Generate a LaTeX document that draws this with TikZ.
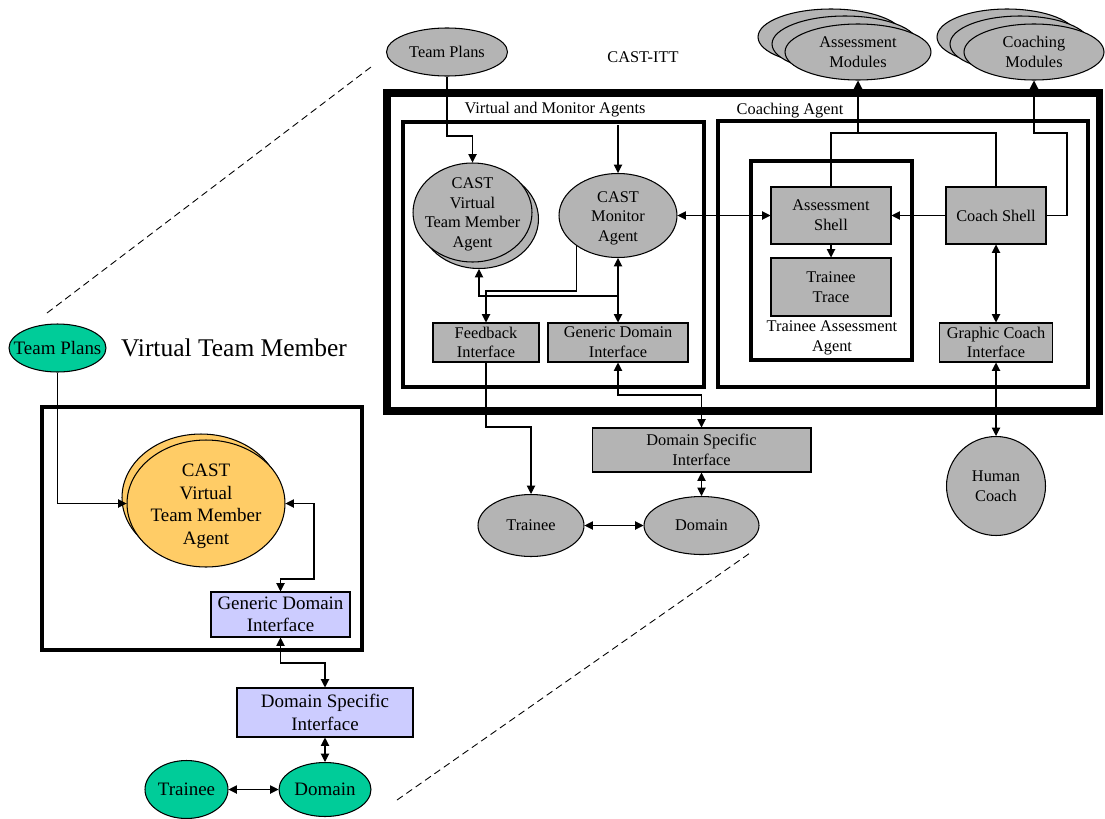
\documentclass[tikz,border=0pt]{standalone}
\usepackage{fontspec}
\setmainfont{Liberation Serif}
\usetikzlibrary{shapes.geometric,arrows.meta}
\definecolor{boxgray}{RGB}{180,180,180}
\definecolor{vtgreen}{RGB}{0,204,153}
\definecolor{vtorange}{RGB}{255,204,102}
\definecolor{vtlilac}{RGB}{204,204,255}
\begin{document}
\begin{tikzpicture}[x=0.02cm,y=-0.02cm,
  sm/.style={font=\fontsize{9.3}{11.2}\selectfont, align=center, inner sep=0pt},
  lg/.style={font=\fontsize{10.8}{12.8}\selectfont, align=center, inner sep=0pt},
  gbox/.style={sm, draw, fill=boxgray, line width=0.6pt, rectangle},
  lbox/.style={lg, draw, fill=vtlilac, line width=0.6pt, rectangle},
  ell/.style={ellipse, draw, line width=0.6pt, inner sep=0pt},
  frame/.style={line width=2.8pt, line join=miter},
  outerframe/.style={line width=4pt, line join=miter},
  wire/.style={line width=0.6pt},
  arr/.style={wire, -{Triangle[length=4.8pt,width=4.8pt]}},
  arrboth/.style={wire, {Triangle[length=4.8pt,width=4.8pt]}-{Triangle[length=4.8pt,width=4.8pt]}},
  zoomline/.style={line width=0.5pt, dash pattern=on 4pt off 2.5pt}
]
\useasboundingbox (0,0) rectangle (1105,818);

% ---------- CAST-ITT architecture (right) ----------
\draw[outerframe] (387,93) rectangle (1099,411);
\draw[frame] (403,122) rectangle (704,387);
\draw[frame] (718,121) rectangle (1088,387);
\draw[frame] (751,161) rectangle (912,360);

\node[sm] (ittlbl) at (643,57) {CAST-ITT};
\node[sm] (vmlbl) at (555,110) {Virtual and Monitor Agents};
\node[sm] (calbl) at (790,111) {Coaching Agent};
\node[sm] (talbl) at (832,338) {Trainee Assessment\\Agent};

\node[ell, fill=boxgray, minimum width=2.42cm, minimum height=0.96cm,
      label={[sm]center:Team Plans}] (tpR) at (447,52) {};

% assessment and coaching module stacks
\node[ell, fill=boxgray, minimum width=2.92cm, minimum height=1.12cm] (amB) at (831,37) {};
\node[ell, fill=boxgray, minimum width=2.92cm, minimum height=1.12cm] (amM) at (845,44) {};
\node[ell, fill=boxgray, minimum width=2.92cm, minimum height=1.12cm,
      label={[sm]center:Assessment\\Modules}] (amF) at (858,52) {};
\node[ell, fill=boxgray, minimum width=2.8cm, minimum height=1.12cm] (cmB) at (1007,37) {};
\node[ell, fill=boxgray, minimum width=2.8cm, minimum height=1.12cm] (cmM) at (1020,44) {};
\node[ell, fill=boxgray, minimum width=2.8cm, minimum height=1.12cm,
      label={[sm]center:Coaching\\Modules}] (cmF) at (1034,52) {};

% virtual team member (stacked) and monitor agent
\node[ell, fill=boxgray, minimum width=2.38cm, minimum height=1.98cm] (vtmB) at (479,219) {};
\node[ell, fill=boxgray, minimum width=2.38cm, minimum height=1.98cm,
      label={[sm, yshift=-1pt]center:CAST\\Virtual\\Team Member\\Agent}] (vtmF) at (472.5,212.5) {};
\node[ell, fill=boxgray, minimum width=2.36cm, minimum height=1.68cm,
      label={[sm, yshift=-1.5pt]center:CAST\\Monitor\\Agent}] (mon) at (618,215.5) {};

\node[gbox, minimum width=2.12cm, minimum height=0.78cm] (fbi) at (486,342.5) {Feedback\\Interface};
\node[gbox, minimum width=2.8cm, minimum height=0.78cm] (gdiR) at (618,342.5) {Generic Domain\\Interface};

\node[gbox, minimum width=2.4cm, minimum height=1.14cm] (ashell) at (831,215.5) {Assessment\\Shell};
\node[gbox, minimum width=2.4cm, minimum height=1.16cm] (ttrace) at (831,287) {Trainee\\Trace};
\node[gbox, minimum width=2.0cm, minimum height=1.14cm] (cshell) at (996,215.5) {Coach Shell};
\node[gbox, minimum width=2.26cm, minimum height=0.78cm] (gci) at (996,342.5) {Graphic Coach\\Interface};

\node[gbox, minimum width=4.38cm, minimum height=0.88cm] (dsiR) at (701.5,450) {Domain Specific\\Interface};
\node[ell, fill=boxgray, minimum width=2.12cm, minimum height=1.24cm,
      label={[sm]center:Trainee}] (trR) at (531,525.5) {};
\node[ell, fill=boxgray, minimum width=2.3cm, minimum height=1.16cm,
      label={[sm]center:Domain}] (domR) at (701.5,525.5) {};
\node[circle, draw, fill=boxgray, line width=0.6pt, minimum size=1.98cm, sm] (hc) at (996,486) {Human\\Coach};

% connectors, right
\coordinate (tpbend) at (447,136);
\draw[arr] (tpR.south) -- (tpbend) -| (vtmF.north);
\coordinate (monin) at (618,125);
\draw[arr] (monin) -- (mon.north);
\draw[arrboth] (mon.south) -- (gdiR.north);
\coordinate (jv) at (618,296);
\draw[arr] (jv) -| (vtmB.south);
\coordinate (fbbend) at (486,291);
\draw[arr] (mon.216) |- (fbbend) -- (fbi.north);
\coordinate (fbdown) at (486,427);
\draw[arr] (fbi.south) -- (fbdown) -| (trR.north);
\coordinate (gddown) at (618,395);
\draw[arrboth] (gdiR.south) -- (gddown) -| (dsiR.north);
\draw[arrboth] (dsiR.south) -- (domR.north);
\draw[arrboth] (trR.east) -- (domR.west);
\draw[arrboth] (mon.east) -- (ashell.west);
\draw[arr] (cshell.west) -- (ashell.east);
\draw[arr] (ashell.south) -- (ttrace.north);
\coordinate (cabus) at (996,133);
\draw[wire] (ashell.north) |- (cabus) -- (cshell.north);
\coordinate (amtap) at (858,133);
\draw[arr] (amtap) -- (amF.south);
\coordinate (cmbend) at (1067,133);
\draw[arr] (cshell.east) -| (cmbend) -| (cmF.south);
\draw[arrboth] (cshell.south) -- (gci.north);
\draw[arrboth] (gci.south) -- (hc.north);

% ---------- virtual team member detail (left) ----------
\draw[frame] (42,407) rectangle (362,650);
\node[ell, fill=vtgreen, minimum width=1.94cm, minimum height=0.96cm,
      label={[lg]center:Team Plans}] (tpL) at (57.5,348) {};
\node[font=\fontsize{14.5}{17}\selectfont, inner sep=0pt] (vtmtitle) at (234,348) {Virtual Team Member};
\node[ell, fill=vtorange, minimum width=3.16cm, minimum height=2.54cm] (vtmLB) at (201,497.5) {};
\node[ell, fill=vtorange, minimum width=3.16cm, minimum height=2.54cm,
      label={[lg, yshift=-1.5pt]center:CAST\\Virtual\\Team Member\\Agent}] (vtmLF) at (206,503.5) {};
\node[lbox, minimum width=2.78cm, minimum height=0.9cm] (gdiL) at (280.5,614.5) {Generic Domain\\Interface};
\node[lbox, minimum width=3.52cm, minimum height=0.98cm] (dsiL) at (325,712.5) {Domain Specific\\Interface};
\node[ell, fill=vtgreen, minimum width=1.66cm, minimum height=1.16cm,
      label={[lg]center:Trainee}] (trL) at (186.5,789.5) {};
\node[ell, fill=vtgreen, minimum width=1.84cm, minimum height=1.08cm,
      label={[lg]center:Domain}] (domL) at (325,789.5) {};

\draw[arr] (tpL.south) |- (vtmLF.west);
\coordinate (lb1) at (314,579);
\draw[arrboth] (vtmLF.east) -| (lb1) -| (gdiL.north);
\coordinate (lb2) at (280.5,663);
\draw[arrboth] (gdiL.south) -- (lb2) -| (dsiL.north);
\draw[arrboth] (dsiL.south) -- (domL.north);
\draw[arrboth] (trL.east) -- (domL.west);

% zoom guide lines
\coordinate (zA1) at (47,313);
\coordinate (zA2) at (371,67);
\coordinate (zB1) at (397,800);
\coordinate (zB2) at (750,553);
\draw[zoomline] (zA1) -- (zA2);
\draw[zoomline] (zB1) -- (zB2);
\end{tikzpicture}
\end{document}
